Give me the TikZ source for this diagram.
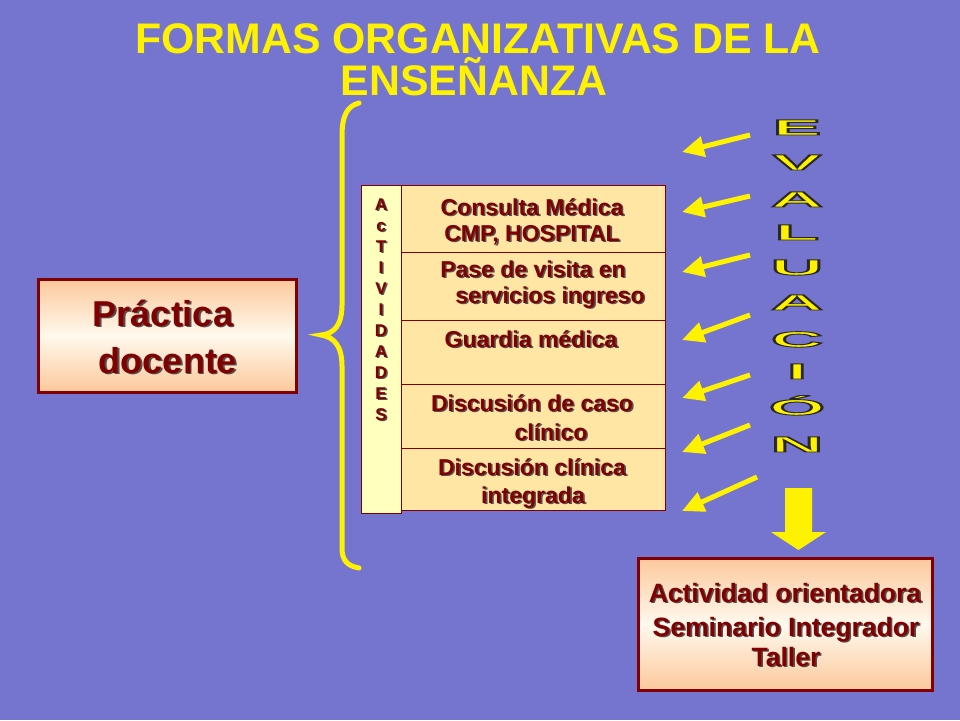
\documentclass[tikz,border=0pt]{standalone}
\usepackage{fontspec}
\setmainfont{Liberation Sans}
\usepackage{graphicx}
\usetikzlibrary{arrows.meta}
\definecolor{bg}{RGB}{117,117,208}
\definecolor{mar}{RGB}{128,0,0}
\definecolor{shd}{RGB}{85,80,80}
\definecolor{peach}{RGB}{252,200,155}
\definecolor{cream}{RGB}{255,249,238}
\definecolor{rowfill}{RGB}{255,230,165}
\definecolor{colfill}{RGB}{255,255,190}
\newcommand\sh[1]{\rlap{\kern1.6pt\raisebox{-1.6pt}{\textcolor{shd}{#1}}}\textcolor{mar}{#1}}
\newcommand\evl[1]{\scalebox{3.3}[1]{\color{yellow}\special{pdf:literal direct 2 Tr 0.9 w 0.16 0.16 0.12 RG}#1\special{pdf:literal direct 0 Tr}}}
\tikzset{
  titletxt/.style={font=\bfseries\fontsize{42.8}{46}\selectfont, text=yellow, inner sep=0, anchor=base},
  rowtxt/.style={font=\bfseries\fontsize{23}{28}\selectfont, inner sep=0, anchor=base},
  bigtxt/.style={font=\bfseries\fontsize{36}{40}\selectfont, inner sep=0, anchor=base},
  boxtxt/.style={font=\bfseries\fontsize{26.5}{30}\selectfont, inner sep=0, anchor=base},
  coltxt/.style={font=\bfseries\fontsize{17}{20}\selectfont, inner sep=0, anchor=base},
  evtxt/.style={font=\bfseries\fontsize{22}{24}\selectfont, text=yellow, inner sep=0, anchor=base},
  rowbox/.style={draw=mar, line width=0.8pt, fill=rowfill},
  gradbox/.style={draw=mar, line width=3pt, shading=axis, top color=peach, bottom color=peach, middle color=cream},
  evarrow/.style={draw=yellow, line width=5pt, -{Triangle[length=22pt,width=20pt]}},
}
\begin{document}
\begin{tikzpicture}[x=1pt,y=-1pt]
\fill[bg] (0,0) rectangle (960,720);
\useasboundingbox (0,0) rectangle (960,720);

% title
\node[titletxt] (t1) at (478,53) {FORMAS ORGANIZATIVAS DE LA};
\node[titletxt] (t2) at (474,95) {ENSEÑANZA};

% practica docente
\node[gradbox, minimum width=258pt, minimum height=113pt] (pd) at (167.5,335.5) {};
\node[bigtxt] (pd1) at (163,326) {\sh{Práctica}};
\node[bigtxt] (pd2) at (168,373) {\sh{docente}};

% brace
\draw[yellow, line width=5pt, line cap=round]
 (359,103) .. controls (347,106) and (342,116) .. (342,136) -- (342,305)
 .. controls (342,325) and (334,334) .. (321,335)
 .. controls (334,337) and (342,346) .. (342,366) -- (342,548)
 .. controls (342,560) and (347,566) .. (359,568);

% actividades column
\node[draw=mar, line width=0.8pt, fill=colfill, minimum width=40pt, minimum height=328pt, inner sep=0, anchor=north west] (col) at (361,185) {};
\foreach \l [count=\i from 0] in {A,c,T,I,V,I,D,A,D,E,S}{
  \node[coltxt] (cl\i) at (381,{210+21*\i}) {\sh{\l}};
}

% rows
\node[rowbox, minimum width=264pt, minimum height=67pt, inner sep=0, anchor=north west] (r1) at (401,185) {};
\node[rowbox, minimum width=264pt, minimum height=68pt, inner sep=0, anchor=north west] (r2) at (401,252) {};
\node[rowbox, minimum width=264pt, minimum height=64pt, inner sep=0, anchor=north west] (r3) at (401,320) {};
\node[rowbox, minimum width=264pt, minimum height=64pt, inner sep=0, anchor=north west] (r4) at (401,384) {};
\node[rowbox, minimum width=264pt, minimum height=62pt, inner sep=0, anchor=north west] (r5) at (401,448) {};

\node[rowtxt] (r1a) at (532,215) {\sh{Consulta Médica}};
\node[rowtxt] (r1b) at (532,241) {\sh{CMP, HOSPITAL}};
\node[rowtxt] (r2a) at (533,277) {\sh{Pase de visita en}};
\node[rowtxt] (r2b) at (550,303) {\sh{servicios ingreso}};
\node[rowtxt] (r3a) at (531,347) {\sh{Guardia médica}};
\node[rowtxt] (r4a) at (532,411) {\sh{Discusión de caso}};
\node[rowtxt] (r4b) at (551,440) {\sh{clínico}};
\node[rowtxt] (r5a) at (532,475) {\sh{Discusión clínica}};
\node[rowtxt] (r5b) at (533,503) {\sh{integrada}};

% evaluation arrows
\foreach \i/\xa/\ya/\xb/\yb in {1/750/135/682/152, 2/750/196/682/212, 3/750/255/682/272, 4/750/315/682/340, 5/750/375/682/398, 6/750/425/682/452, 7/757/477/682/511}{
  \coordinate (as\i) at (\xa,\ya);
  \coordinate (ae\i) at (\xb,\yb);
  \draw[evarrow] (as\i) -- (ae\i);
}

% EVALUACION letters
\foreach \l/\y [count=\i] in {E/135,V/170,A/207,L/240,U/275,A/310,C/347,I/379,Ó/415,N/452}{
  \node[evtxt] (ev\i) at (797,\y) {\evl{\l}};
}

% down block arrow
\fill[yellow] (785,488) -- (812,488) -- (812,532) -- (826,532) -- (798.5,550) -- (771,532) -- (785,532) -- cycle;

% bottom box
\node[gradbox, minimum width=294pt, minimum height=132pt] (bb) at (785,624) {};
\node[boxtxt] (bb1) at (785,602) {\sh{Actividad orientadora}};
\node[boxtxt] (bb2) at (786,636) {\sh{Seminario Integrador}};
\node[boxtxt] (bb3) at (786,666) {\sh{Taller}};
\end{tikzpicture}
\end{document}
